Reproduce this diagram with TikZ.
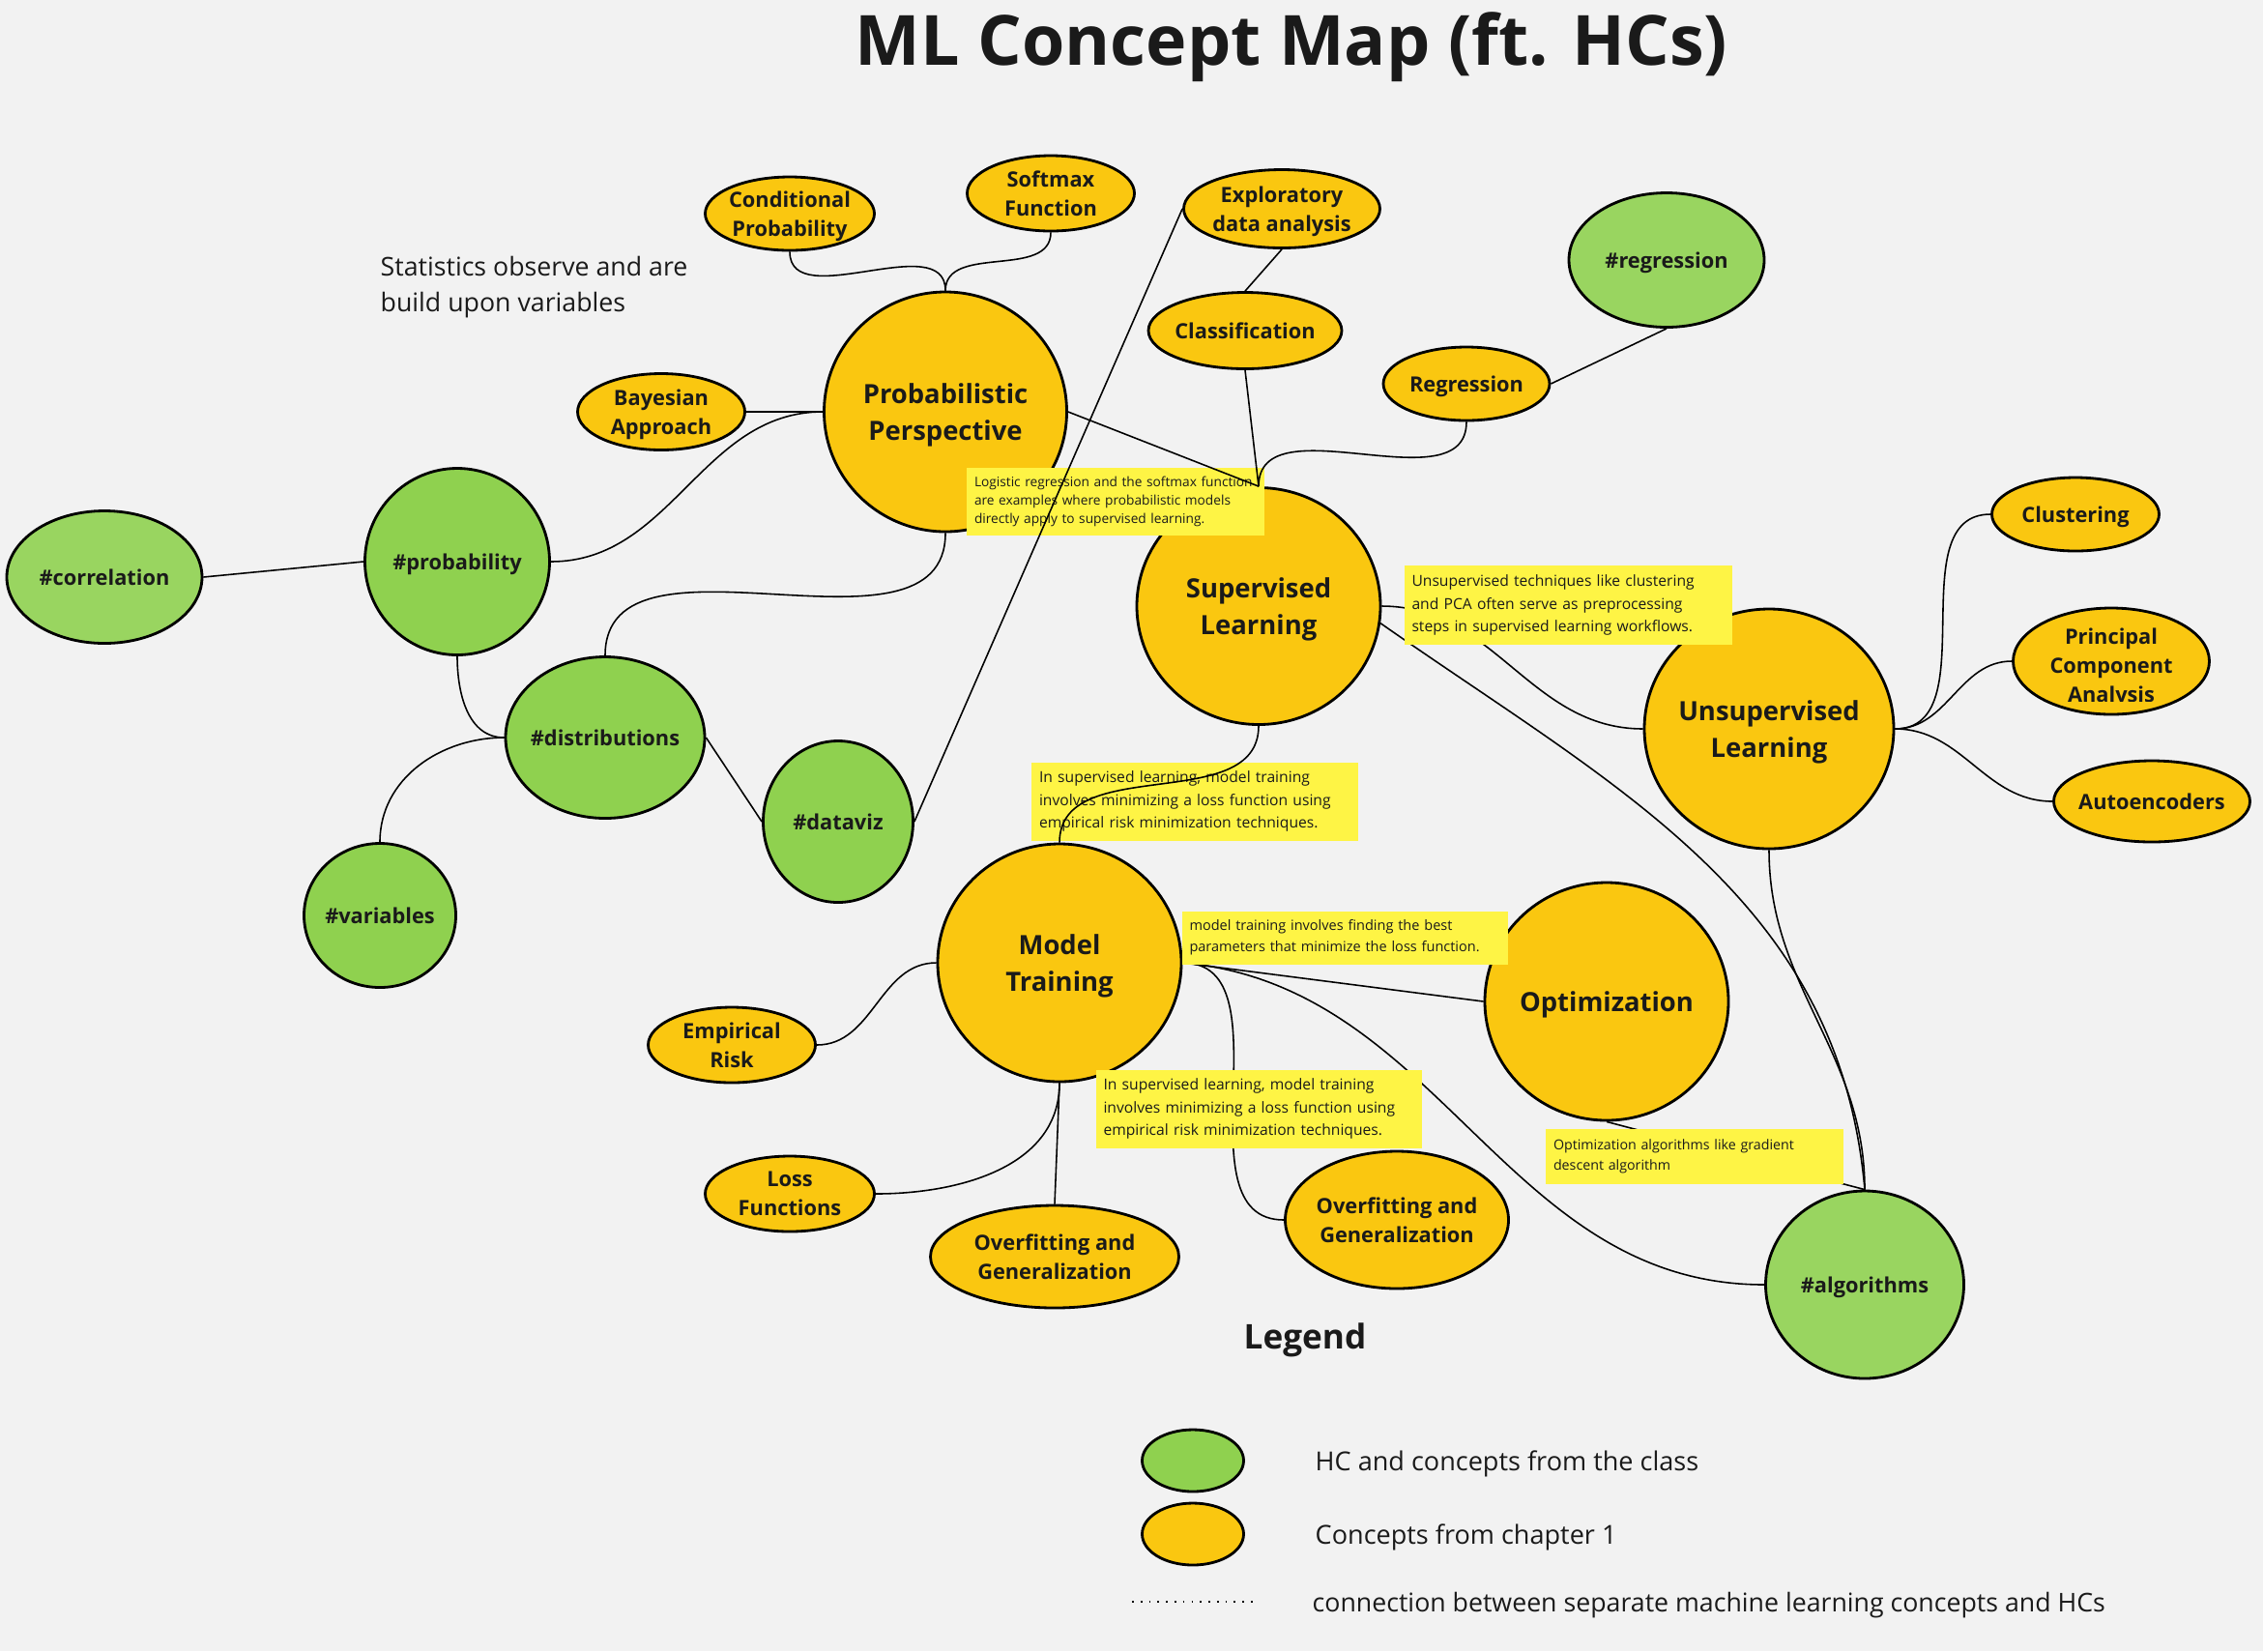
\documentclass[tikz,border=0pt]{standalone}
\usepackage{fontspec}
\setmainfont{Open Sans}
\usetikzlibrary{shapes.geometric}

\definecolor{bgcol}{HTML}{F2F2F2}
\definecolor{conyel}{HTML}{FAC710}
\definecolor{hcgreen}{HTML}{8FD14F}
\definecolor{hclight}{HTML}{99D560}
\definecolor{notey}{HTML}{FEF445}
\definecolor{inkcol}{HTML}{1A1A1A}

\tikzset{
  concept/.style={shape=ellipse, draw=black, line width=0.8pt, fill=conyel,
    inner xsep=-0.3cm, inner ysep=-0.12cm, text depth=-0.03cm, align=center, text=inkcol,
    font=\fontsize{6.2}{8.5}\selectfont\bfseries},
  bigconcept/.style={concept, font=\fontsize{7.8}{10.6}\selectfont\bfseries},
  hc/.style={concept, fill=hcgreen},
  hclt/.style={concept, fill=hclight},
  sz/.style 2 args={minimum width=#1cm, minimum height=#2cm},
  sticky/.style={fill=notey, inner xsep=0.08cm, inner ysep=0pt, align=left, text=inkcol},
  plaintext/.style={inner sep=0pt, text=inkcol, font=\fontsize{7.7}{9}\selectfont},
  link/.style={line width=0.45pt, draw=black},
}

\begin{document}
\begin{tikzpicture}
  \fill[bgcol] (0,0) rectangle (23.41,-17.08);
  \useasboundingbox (0,0) rectangle (23.41,-17.08);

  % title and side remark
  \node[anchor=base, text=inkcol, font=\fontsize{20.4}{24}\selectfont\bfseries] (title) at (13.36,-0.67) {ML Concept Map (ft. HCs)};
  \node[plaintext, anchor=west, align=left, font=\fontsize{7.6}{10.5}\selectfont] (stats) at (3.93,-2.97) {Statistics observe and are\\build upon variables};

  % concepts
  \node[concept, sz={1.75}{0.76}] (cp) at (8.17,-2.21) {Conditional\\Probability};
  \node[concept, sz={1.73}{0.78}] (sm) at (10.87,-2.00) {Softmax\\Function};
  \node[concept, sz={2.03}{0.81}] (eda) at (13.26,-2.16) {Exploratory\\data analysis};
  \node[hclt, sz={2.02}{1.39}] (hreg) at (17.24,-2.69) {\#regression};
  \node[concept, sz={2.00}{0.79}] (cls) at (12.88,-3.42) {Classification};
  \node[concept, sz={1.72}{0.76}] (reg) at (15.17,-3.97) {Regression};
  \node[bigconcept, sz={2.51}{2.48}] (pp) at (9.78,-4.26) {Probabilistic\\Perspective};
  \node[concept, sz={1.73}{0.79}] (bay) at (6.84,-4.26) {Bayesian\\Approach};
  \node[hclt, sz={2.02}{1.37}] (corr) at (1.08,-5.97) {\#correlation};
  \node[hc, sz={1.91}{1.93}] (prob) at (4.73,-5.81) {\#probability};
  \node[bigconcept, sz={2.52}{2.45}] (sl) at (13.02,-6.27) {Supervised\\Learning};
  \node[concept, sz={1.73}{0.76}] (clu) at (21.47,-5.32) {Clustering};
  \node[concept, sz={2.03}{1.10},
    path picture={
      \clip ([yshift=0.14cm]path picture bounding box.south west) rectangle (path picture bounding box.north east);
      \node[align=center, text=inkcol, font=\fontsize{6.2}{8.5}\selectfont\bfseries] at ([yshift=-0.04cm]path picture bounding box.center) {Principal\\Component\\Analysis};
    }] (pca) at (21.84,-6.84) {};
  \node[bigconcept, sz={2.58}{2.48}] (usl) at (18.30,-7.54) {Unsupervised\\Learning};
  \node[concept, sz={2.03}{0.84}] (ae) at (22.26,-8.29) {Autoencoders};
  \node[hc, sz={2.06}{1.67}] (dist) at (6.26,-7.63) {\#distributions};
  \node[hc, sz={1.55}{1.67}] (dviz) at (8.67,-8.50) {\#dataviz};
  \node[hc, sz={1.57}{1.49}] (var) at (3.93,-9.47) {\#variables};
  \node[bigconcept, sz={2.52}{2.46}] (mt) at (10.96,-9.96) {Model\\Training};
  \node[bigconcept, sz={2.52}{2.46}] (opt) at (16.62,-10.36) {Optimization};
  \node[concept, sz={1.73}{0.78}] (er) at (7.57,-10.81) {Empirical\\Risk};
  \node[concept, sz={1.75}{0.78}] (lf) at (8.17,-12.35) {Loss\\Functions};
  \node[concept, sz={2.57}{1.06}] (og1) at (10.91,-13.00) {Overfitting and\\Generalization};
  \node[concept, sz={2.31}{1.42}] (og2) at (14.45,-12.62) {Overfitting and\\Generalization};
  \node[hclt, sz={2.05}{1.94}] (alg) at (19.29,-13.29) {\#algorithms};

  % notes lying under the links
  \node[sticky, text width=2.92cm, minimum height=0.70cm, font=\fontsize{3.9}{5.3}\selectfont] (nlog) at (11.54,-5.19)
    {Logistic regression and the softmax function\\are examples where probabilistic models\\directly apply to supervised learning.};
  \node[sticky, text width=3.22cm, minimum height=0.81cm, font=\fontsize{4.45}{6.6}\selectfont] (nerm) at (12.36,-8.29)
    {In supervised learning, model training\\involves minimizing a loss function using\\empirical risk minimization techniques.};

  % links
  \path[link] (cp.south) edge[out=-90,in=90] (pp.north)
    (sm.south) edge[out=-90,in=90] (pp.north)
    (bay.east) edge (pp.west)
    (prob.east) edge[out=0,in=180] (pp.west)
    (corr.east) edge (prob.west)
    (pp.south) edge[out=-90,in=90] (dist.north)
    (prob.south) edge[out=-90,in=180] (dist.west)
    (dist.west) edge[out=180,in=90] (var.north)
    (dist.east) edge (dviz.west)
    (dviz.east) edge (eda.west)
    (eda.south) edge (cls.north)
    (cls.south) edge (sl.north)
    (reg.south) edge[out=-90,in=90] (sl.north)
    (hreg.south) edge (reg.east)
    (pp.east) edge (sl.north)
    (sl.south) edge[out=-90,in=90] (mt.north)
    (sl.east) edge[out=0,in=180] (usl.west)
    (sl.-8) edge[out=-35,in=95] (alg.north)
    (usl.south) edge[out=-90,in=90] (alg.north)
    (usl.east) edge[out=0,in=180] (clu.west)
    (usl.east) edge[out=0,in=180] (pca.west)
    (usl.east) edge[out=0,in=180] (ae.west)
    (mt.west) edge[out=180,in=0] (er.east)
    (mt.south) edge[out=-90,in=0] (lf.east)
    (mt.south) edge (og1.north)
    (mt.east) edge[out=0,in=180] (og2.west)
    (mt.east) edge (opt.west)
    (mt.east) edge[out=-5,in=180] (alg.west)
    (opt.south) edge (alg.north);

  % notes lying over the links
  \node[sticky, text width=3.23cm, minimum height=0.82cm, font=\fontsize{4.45}{6.6}\selectfont] (npre) at (16.22,-6.26)
    {Unsupervised techniques like clustering\\and PCA often serve as preprocessing\\steps in supervised learning workflows.};
  \node[sticky, text width=3.21cm, minimum height=0.55cm, font=\fontsize{4.13}{6.3}\selectfont] (nbest) at (13.91,-9.70)
    {model training involves finding the best\\parameters that minimize the loss function.};
  \node[sticky, text width=3.21cm, minimum height=0.81cm, font=\fontsize{4.45}{6.6}\selectfont] (nerm2) at (13.02,-11.47)
    {In supervised learning, model training\\involves minimizing a loss function using\\empirical risk minimization techniques.};
  \node[sticky, text width=2.92cm, minimum height=0.57cm, font=\fontsize{4.05}{6.0}\selectfont] (ngd) at (17.53,-11.96)
    {Optimization algorithms like gradient\\descent algorithm};

  % legend
  \node[text=inkcol, font=\fontsize{10}{12}\selectfont\bfseries] (legtitle) at (13.50,-13.86) {Legend};
  \node[hc, sz={1.05}{0.64}] (leghc) at (12.34,-15.11) {};
  \node[concept, sz={1.05}{0.64}] (legcon) at (12.34,-15.87) {};
  \coordinate (dotA) at (11.71,-16.57);
  \coordinate (dotB) at (12.96,-16.57);
  \draw[line width=0.5pt, dotted] (dotA) -- (dotB);
  \node[plaintext, anchor=base west] (leghctxt) at (13.60,-15.21) {HC and concepts from the class};
  \node[plaintext, anchor=base west] (legcontxt) at (13.60,-15.97) {Concepts from chapter 1};
  \node[plaintext, anchor=base west, font=\fontsize{7.6}{9}\selectfont] (legdottxt) at (13.57,-16.67) {connection between separate machine learning concepts and HCs};
\end{tikzpicture}
\end{document}
